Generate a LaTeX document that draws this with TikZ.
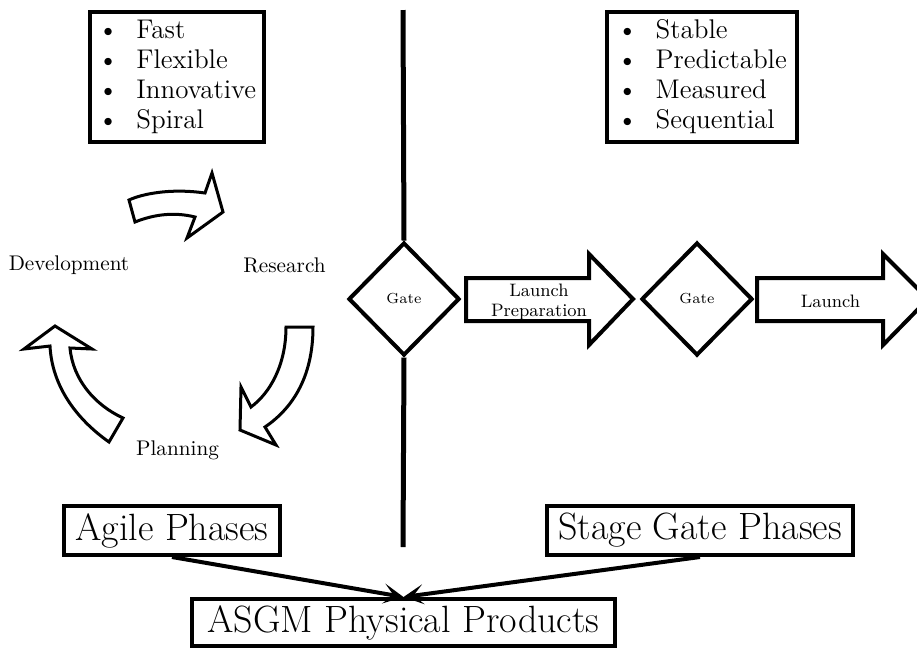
\documentclass[tikz,border=0pt]{standalone}
\usetikzlibrary{shapes.geometric,arrows.meta}

\tikzset{
    listbox/.style={draw, line width=2pt, minimum width=87pt, minimum height=65pt,
        inner sep=0pt, align=left, font=\fontsize{13.5}{15}\selectfont},
    phasebox/.style={draw, line width=2pt, inner xsep=2pt, inner ysep=1pt,
        font=\fontsize{19}{22}\selectfont},
    gate/.style={draw, diamond, line width=2pt, minimum width=55.5pt,
        minimum height=56.5pt, inner sep=0pt, font=\fontsize{7.3}{8}\selectfont},
    cyclelabel/.style={font=\fontsize{10.6}{12}\selectfont},
    arrowlabel/.style={align=center, font=\fontsize{9}{10}\selectfont},
    blockarrow/.style={draw, line width=2pt, line join=miter},
    cyclearrow/.style={draw, line width=1.5pt, line join=miter},
    divider/.style={line width=2.5pt},
    link/.style={line width=2pt, -{Stealth[length=10pt,width=10pt,inset=5pt]}},
}
\newcommand{\bul}{\textbullet\hspace{9pt}}

\begin{document}
\begin{tikzpicture}[x=0.5pt, y=-0.5pt]

        \clip (0,0) rectangle (917,650);

        %----- FEATURE LISTS -----
        \node[listbox] (agilelist) at (177,77)
            {\bul Fast\\ \bul Flexible\\ \bul Innovative\\ \bul Spiral};
        \node[listbox, minimum width=95pt] (stagelist) at (702,77)
            {\bul Stable\\ \bul Predictable\\ \bul Measured\\ \bul Sequential};

        %----- AGILE CYCLE -----
        \node[cyclelabel] (dev)  at (69,265)    {Development};
        \node[cyclelabel] (res)  at (284.5,265) {Research};
        \node[cyclelabel] (plan) at (177.5,450) {Planning};

        % development -> research
        \draw[cyclearrow] (129,200) .. controls (142,194) and (170,188) .. (205,193)
            -- (212,173) -- (223,212) -- (187,238) -- (195,217)
            .. controls (175,212) and (155,214) .. (135,222) -- cycle;
        % research -> planning
        \draw[cyclearrow] (286,327) .. controls (286,365) and (270,393) .. (251,407)
            -- (241,387) -- (240,430) -- (276,445) -- (265,427)
            .. controls (290,410) and (313,380) .. (313,327) -- cycle;
        % planning -> development
        \draw[cyclearrow] (109,442) .. controls (75,418) and (52,385) .. (50,346)
            -- (24,349) -- (55,326) -- (92,349) -- (70,348)
            .. controls (73,380) and (95,405) .. (123,418) -- cycle;

        %----- STAGE GATE ROW -----
        \node[gate] (gate1) at (404,299) {Gate};
        \node[gate] (gate2) at (697,299) {Gate};

        \draw[blockarrow] (466,278) -- (589,278) -- (589,254) -- (633,299)
            -- (589,345) -- (589,321) -- (466,321) -- cycle;
        \node[arrowlabel] (prep) at (539,301.7) {Launch\\Preparation};

        \draw[blockarrow] (757,278) -- (883,278) -- (883,254) -- (928,299)
            -- (883,345) -- (883,321) -- (757,321) -- cycle;
        \node[arrowlabel] (launch) at (830.5,301.7) {Launch};

        %----- DIVIDER -----
        \coordinate (linetop) at (403,10);
        \coordinate (linebot) at (403,547);
        \draw[divider] (linetop) -- (gate1.north);
        \draw[divider] (gate1.south) -- (linebot);

        %----- PHASES -----
        \node[phasebox, minimum width=108pt, minimum height=24.5pt] (agile) at (172,530.5) {Agile Phases};
        \node[phasebox, minimum width=153pt, minimum height=24.5pt] (stage) at (700,530.5) {Stage Gate Phases};
        \node[phasebox, minimum width=211.5pt, minimum height=23.5pt] (asgm) at (403.5,622.5) {ASGM Physical Products};

        \draw[link] (agile.south) -- (asgm.north);
        \draw[link] (stage.south) -- (asgm.north);

\end{tikzpicture}
\end{document}
